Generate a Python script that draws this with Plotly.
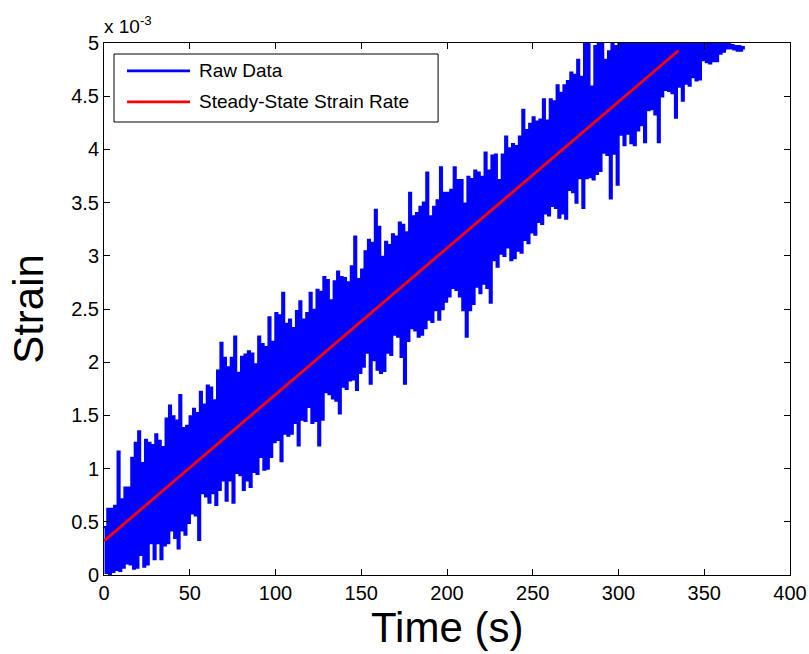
import plotly.graph_objects as go

# Raw strain record (units of 1e-3), sampled once per second.
# Even seconds carry the upper excursions, odd seconds the lower ones.
raw_peaks = [
    0.45, 0.62, 0.62, 0.65, 1.16, 0.71, 0.82, 0.82, 1.10, 1.24,
    1.35, 1.05, 1.27, 1.24, 1.22, 1.32, 1.26, 1.20, 1.47, 1.59,
    1.49, 1.45, 1.69, 1.38, 1.40, 1.49, 1.56, 1.52, 1.72, 1.60,
    1.78, 1.76, 1.64, 1.92, 2.18, 2.04, 1.95, 2.04, 2.24, 1.90,
    2.05, 2.07, 2.10, 2.08, 1.98, 2.24, 2.17, 2.14, 2.42, 2.19,
    2.46, 2.44, 2.65, 2.36, 2.40, 2.32, 2.48, 2.57, 2.40, 2.46,
    2.65, 2.49, 2.68, 2.66, 2.80, 2.77, 2.58, 2.76, 2.85, 2.80,
    2.79, 2.75, 2.90, 3.18, 2.78, 2.87, 3.04, 3.15, 3.12, 3.43,
    3.27, 2.99, 3.13, 3.10, 3.20, 3.18, 3.31, 3.29, 3.22, 3.59,
    3.37, 3.40, 3.46, 3.50, 3.78, 3.37, 3.46, 3.52, 3.83, 3.59,
    3.59, 3.62, 3.83, 3.71, 3.71, 3.49, 3.74, 3.72, 3.80, 3.78,
    3.74, 3.97, 3.80, 3.94, 3.95, 3.71, 3.95, 4.12, 4.01, 4.05,
    4.03, 4.12, 4.37, 4.18, 4.24, 4.30, 4.26, 4.28, 4.47, 4.27,
    4.47, 4.45, 4.60, 4.53, 4.60, 4.64, 4.72, 4.70, 4.84, 4.68,
    5.10, 5.20, 4.59, 4.97, 5.05, 5.20, 4.84, 4.92, 5.10, 4.97,
    5.15, 5.30, 5.25, 5.40, 5.20, 5.35, 5.45, 5.30, 5.40, 5.50,
    5.35, 5.45, 5.55, 5.40, 5.50, 5.45, 5.35, 5.30, 5.25, 5.20,
    5.15, 5.10, 5.12, 5.08, 5.10, 5.05, 5.06, 5.04,
    5.02, 5.01, 5.00, 5.00, 4.99, 4.98, 4.97, 4.97, 4.96,
]
raw_troughs = [
    0.02, 0.01, 0.03, 0.05, 0.04, 0.07, 0.11, 0.10, 0.06, 0.07,
    0.19, 0.08, 0.10, 0.30, 0.15, 0.30, 0.15, 0.28, 0.30, 0.42,
    0.35, 0.25, 0.42, 0.38, 0.49, 0.58, 0.56, 0.33, 0.77, 0.74,
    0.68, 0.77, 0.66, 0.80, 0.89, 0.70, 0.89, 0.68, 0.96, 0.94,
    0.80, 0.89, 0.83, 0.97, 0.95, 1.11, 0.99, 1.00, 1.11, 1.25,
    1.27, 1.07, 1.33, 1.31, 1.33, 1.43, 1.22, 1.46, 1.45, 1.58,
    1.43, 1.45, 1.22, 1.46, 1.72, 1.70, 1.66, 1.64, 1.52, 1.77,
    1.75, 1.83, 1.84, 1.74, 1.90, 1.96, 2.09, 1.80, 2.02, 1.93,
    1.90, 1.92, 2.09, 2.07, 2.26, 2.24, 2.05, 1.80, 2.20, 2.32,
    2.30, 2.24, 2.26, 2.32, 2.40, 2.38, 2.49, 2.40, 2.50, 2.57,
    2.62, 2.70, 2.68, 2.62, 2.49, 2.24, 2.49, 2.55, 2.71, 2.65,
    2.74, 2.70, 2.56, 2.96, 2.90, 3.02, 3.00, 3.08, 2.96, 2.98,
    3.05, 3.03, 3.15, 3.12, 3.22, 3.20, 3.32, 3.30, 3.40, 3.38,
    3.47, 3.45, 3.36, 3.40, 3.35, 3.62, 3.60, 3.50, 3.73, 3.45,
    3.73, 3.74, 3.72, 3.77, 3.80, 3.97, 3.95, 3.54, 3.96, 3.67,
    4.14, 4.04, 4.15, 4.06, 4.04, 4.18, 4.23, 4.07, 4.37, 4.38,
    4.33, 4.07, 4.50, 4.56, 4.55, 4.53, 4.30, 4.59, 4.46, 4.62,
    4.60, 4.68, 4.65, 4.66, 4.84, 4.82, 4.81, 4.83, 4.83, 4.90,
    4.92, 4.95, 4.95, 4.94, 4.93, 4.93, 4.94,
]
sample_period_s = 1.0

# Steady-state fit (units of 1e-3)
fit_time_s = [0, 335]
fit_strain = [0.32, 4.93]

x_ticks = [0, 50, 100, 150, 200, 250, 300, 350, 400]
y_ticks = [0, 0.5, 1, 1.5, 2, 2.5, 3, 3.5, 4, 4.5, 5]
y_tick_text = ["0", "0.5", "1", "1.5", "2", "2.5", "3", "3.5", "4", "4.5", "5"]

legend_labels = ["Raw Data", "Steady-State Strain Rate"]
raw_color = "#0000ff"
fit_color = "#ff0000"

# interleave upper/lower excursions into one time series
raw_strain = []
for hi, lo in zip(raw_peaks, raw_troughs):
    raw_strain.extend([hi, lo])
raw_time = [i * sample_period_s for i in range(len(raw_strain))]

FONT = "Liberation Sans, Arial, Helvetica, sans-serif"

fig = go.Figure()
fig.add_trace(go.Scatter(
    x=raw_time, y=raw_strain, mode="lines", name=legend_labels[0],
    line=dict(color=raw_color, width=2.4, shape="hv"), showlegend=False,
))
fig.add_trace(go.Scatter(
    x=fit_time_s, y=fit_strain, mode="lines", name=legend_labels[1],
    line=dict(color=fit_color, width=2.8), showlegend=False,
))

axis_common = dict(
    showline=True, linecolor="black", linewidth=1, mirror="allticks",
    ticks="inside", ticklen=6, tickcolor="black", tickwidth=1,
    showgrid=False, zeroline=False, automargin=False,
    tickfont=dict(family=FONT, size=20, color="black"),
)
fig.update_xaxes(range=[0, 400], tickvals=x_ticks, **axis_common)
fig.update_yaxes(
    range=[0, 5], tickvals=y_ticks, ticktext=y_tick_text,
    title=dict(text="Strain", font=dict(family=FONT, size=42, color="black"), standoff=14),
    **axis_common,
)

# x axis title, set close under the tick labels
fig.add_annotation(
    x=0.5, y=0, xref="x domain", yref="y domain", xanchor="center", yanchor="top",
    text="Time (s)", showarrow=False, yshift=-27,
    font=dict(family=FONT, size=42, color="black"),
)

# exponent marker above the y axis
fig.add_annotation(
    x=0, y=1, xref="x domain", yref="y domain", xanchor="left", yanchor="bottom",
    text="x 10<sup>-3</sup>", showarrow=False, xshift=-2, yshift=4,
    font=dict(family=FONT, size=19, color="black"),
)

# boxed legend in the upper-left corner
lx0, lx1, ly0, ly1 = 0.0146, 0.487, 0.8515, 0.9793
fig.add_shape(type="rect", xref="x domain", yref="y domain",
              x0=lx0, x1=lx1, y0=ly0, y1=ly1,
              line=dict(color="black", width=1), fillcolor="white", layer="above")
rows = [0.9475, 0.8895]
for label, color, ry in zip(legend_labels, [raw_color, fit_color], rows):
    fig.add_shape(type="line", xref="x domain", yref="y domain",
                  x0=0.0335, x1=0.1254, y0=ry, y1=ry,
                  line=dict(color=color, width=2.8), layer="above")
    fig.add_annotation(x=0.1356, y=ry, xref="x domain", yref="y domain",
                       xanchor="left", yanchor="middle", text=label, showarrow=False,
                       font=dict(family=FONT, size=19, color="black"))

fig.update_layout(
    width=809, height=654,
    margin=dict(l=104, r=19, t=43, b=79),
    paper_bgcolor="white", plot_bgcolor="white",
    showlegend=False,
)

fig.write_html("out.html")
